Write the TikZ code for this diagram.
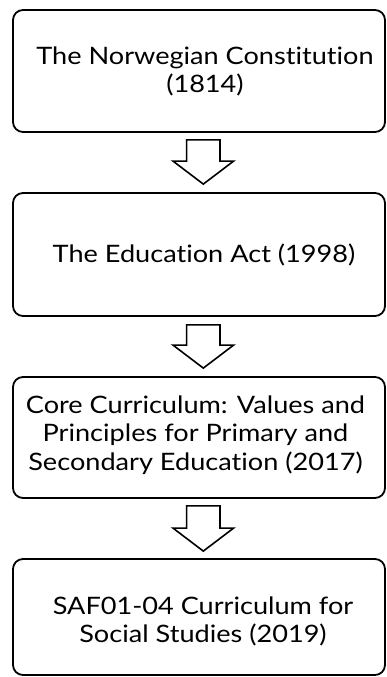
\documentclass[tikz,border=0pt]{standalone}
\usepackage{fontspec}
\setmainfont{Lato}[FakeStretch=1.13, Ligatures={NoCommon,NoRequired,NoContextual}]
\usetikzlibrary{calc}
\tikzset{
  boxnode/.style={draw=black, line width=1.8bp, rounded corners=10bp, fill=white,
    minimum width=372bp, inner sep=0pt},
  txt/.style={font=\fontsize{24bp}{28.5bp}\selectfont, align=center, inner sep=0pt, anchor=base, text=black},
  blk/.style={draw=black, line width=1.6bp, fill=white, line join=miter}
}
\newcommand{\blockarr}[2]{%
  \draw[blk] let \p1=(#1), \p2=(#2) in
    (\x1-16.7bp,\y1) -- (\x1+16.7bp,\y1) -- (\x1+16.7bp,\y2+23bp) -- (\x1+30.3bp,\y2+23bp)
    -- (\x2,\y2) -- (\x1-30.3bp,\y2+23bp) -- (\x1-16.7bp,\y2+23bp) -- cycle;}
\begin{document}
\begin{tikzpicture}[x=1bp,y=-1bp]
\useasboundingbox (0,0) rectangle (386,677);
\node[boxnode, minimum height=122bp] (b1) at (199,71) {};
\node[boxnode, minimum height=123bp] (b2) at (199,254.5) {};
\node[boxnode, minimum height=121bp] (b3) at (199,437.5) {};
\node[boxnode, minimum height=116bp] (b4) at (199,617) {};
\node[txt] (t1) at (205,93) {The Norwegian Constitution\\(1814)};
\node[txt] (t2) at (204,262) {The Education Act (1998)};
\node[txt] (t3) at (195.5,470) {Core Curriculum: Values and\\Principles for Primary and\\Secondary Education (2017)};
\node[txt] (t4) at (203,642.7) {SAF01-04 Curriculum for\\Social Studies (2019)};
\coordinate (a1s) at ($(b1.south)+(4.3,7)$);
\coordinate (a1t) at ($(b2.north)+(4.3,-8)$);
\coordinate (a2s) at ($(b2.south)+(4.3,8)$);
\coordinate (a2t) at ($(b3.north)+(4.3,-8)$);
\coordinate (a3s) at ($(b3.south)+(4.3,7)$);
\coordinate (a3t) at ($(b4.north)+(4.3,-7)$);
\blockarr{a1s}{a1t}
\blockarr{a2s}{a2t}
\blockarr{a3s}{a3t}
\end{tikzpicture}
\end{document}
